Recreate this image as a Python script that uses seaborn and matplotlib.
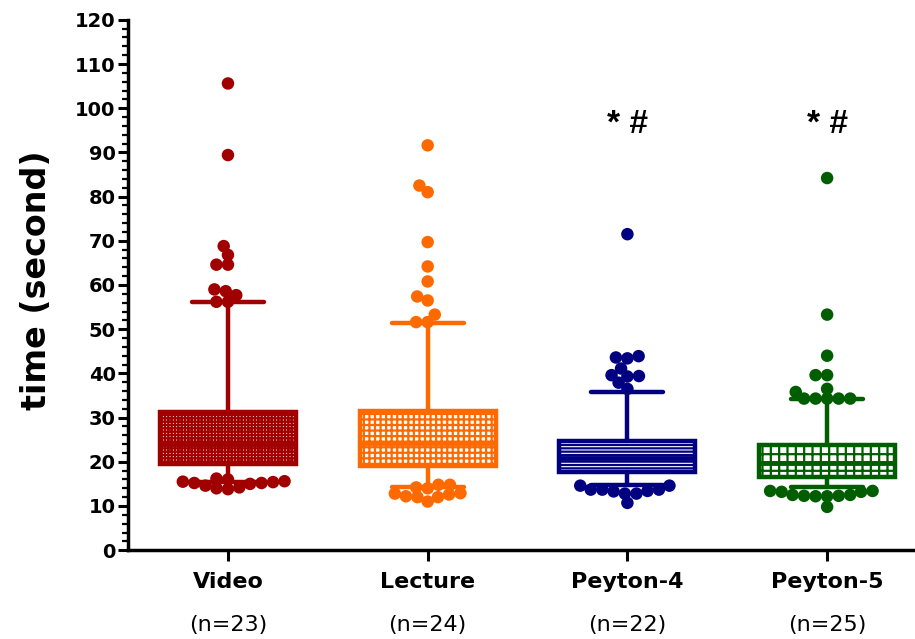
import numpy as np
import pandas as pd
import seaborn as sns
import matplotlib.pyplot as plt

# groups and labels
groups = ['Video', 'Lecture', 'Peyton-4', 'Peyton-5']
n_labels = ['(n=23)', '(n=24)', '(n=22)', '(n=25)']
colors = ['#A00000', '#FF6A00', '#000080', '#005E00']
hatches = ['+++++', '+++', '-----', '++']

# box stats (10-90 percentile whiskers)
q1 = [19.5, 19.0, 17.8, 16.5]
med = [24.0, 24.2, 20.8, 19.7]
q3 = [31.2, 31.6, 24.6, 23.9]
whis_lo = [15.5, 14.3, 14.7, 14.2]
whis_hi = [56.2, 51.4, 35.9, 34.3]

# individual points
video = [105.6, 89.4, 68.8, 66.8, 64.6, 64.6, 59.0, 58.6, 57.7, 56.2, 56.2,
         16.0, 15.6, 15.2, 14.6, 14.0, 13.8, 14.2, 15.0, 15.5, 15.2, 15.4, 16.2]
lecture = [91.6, 82.5, 81.0, 69.7, 64.2, 60.8, 57.4, 56.5, 53.3, 51.6, 51.6,
           12.8, 12.6, 14.8, 12.0, 14.2, 11.0, 14.0, 12.0, 14.8, 12.2, 12.9]
peyton4 = [71.5, 43.6, 43.4, 43.9, 41.1, 39.4, 39.3, 39.6, 37.9, 36.5,
           13.7, 14.6, 12.8, 13.4, 13.7, 12.8, 14.6, 13.3, 13.7, 10.7]
peyton5 = [84.2, 53.3, 44.0, 39.6, 39.6, 35.8, 36.5, 34.3, 34.3, 34.3, 34.3, 34.3,
           12.2, 12.5, 13.4, 12.3, 13.2, 13.2, 12.3, 13.4, 12.5, 12.2, 9.8]

df = pd.DataFrame({
    'group': (['Video'] * len(video) + ['Lecture'] * len(lecture)
              + ['Peyton-4'] * len(peyton4) + ['Peyton-5'] * len(peyton5)),
    'time': video + lecture + peyton4 + peyton5,
})

sns.set_style('ticks')
plt.rcParams['font.family'] = ['DejaVu Sans']
plt.rcParams['hatch.linewidth'] = 1.6
for k in ['text.color', 'axes.labelcolor', 'xtick.color', 'ytick.color',
          'axes.edgecolor']:
    plt.rcParams[k] = 'black'

fig = plt.figure(figsize=(9.15, 6.39), dpi=100)
ax = fig.add_axes([0.140, 0.139, 0.86, 0.830])

# swarm laid out with smaller dots, then dots enlarged (GraphPad style overlap)
sns.swarmplot(data=df, x='group', y='time', hue='group', order=groups,
              palette=colors, size=7.8, legend=False, ax=ax, zorder=3)
fig.canvas.draw()
for coll in ax.collections:
    if 'draw' in coll.__dict__:
        del coll.draw
    coll.set_sizes([9 ** 2])

stats = [dict(q1=q1[i], med=med[i], q3=q3[i], whislo=whis_lo[i],
              whishi=whis_hi[i], fliers=[]) for i in range(len(groups))]
bp = ax.bxp(stats, positions=range(len(groups)), widths=0.68,
            patch_artist=True, showfliers=False, manage_ticks=False)
for i, c in enumerate(colors):
    box = bp['boxes'][i]
    box.set_facecolor('white')
    box.set_edgecolor(c)
    box.set_hatch(hatches[i])
    box.set_linewidth(3.2)
    bp['medians'][i].set_color(c)
    bp['medians'][i].set_linewidth(3.5)
    for w in bp['whiskers'][2 * i:2 * i + 2]:
        w.set_color(c)
        w.set_linewidth(3.2)
    for cap in bp['caps'][2 * i:2 * i + 2]:
        cap.set_color(c)
        cap.set_linewidth(3.2)
        xd = cap.get_xdata()
        mid = (xd[0] + xd[1]) / 2
        cap.set_xdata([mid - 0.18, mid + 0.18])

# significance markers
for i in [2, 3]:
    ax.text(i, 94.5, '* #', ha='center', va='baseline', fontsize=24,
            fontweight='bold', family='Liberation Sans')

ax.set_ylim(0, 120)
ax.set_xlim(-0.5, 3.44)
ax.set_yticks(np.arange(0, 121, 10))
ax.set_yticks(np.arange(0, 121, 2), minor=True)
ax.set_xticks(range(len(groups)))
ax.set_xticklabels(groups, fontsize=16, fontweight='bold')
for lbl in ax.get_yticklabels():
    lbl.set_fontweight('bold')
    lbl.set_fontsize(14)
ax.tick_params(axis='y', which='major', length=7, width=2.2, pad=2)
ax.tick_params(axis='y', which='minor', length=4, width=1.6)
ax.tick_params(axis='x', length=8, width=2.2, pad=8)
for i, t in enumerate(n_labels):
    ax.annotate(t, xy=(i, 0), xycoords=('data', 'axes fraction'),
                xytext=(0, -61), textcoords='offset points',
                ha='center', va='bottom', fontsize=16)

ax.set_xlabel('')
ax.set_ylabel('time (second)', fontsize=24, fontweight='bold')
ax.yaxis.set_label_coords(-0.095, 0.51)
sns.despine(ax=ax)
ax.spines['left'].set_linewidth(2.5)
ax.spines['bottom'].set_linewidth(2.5)

fig.savefig('out.png', dpi=100)
